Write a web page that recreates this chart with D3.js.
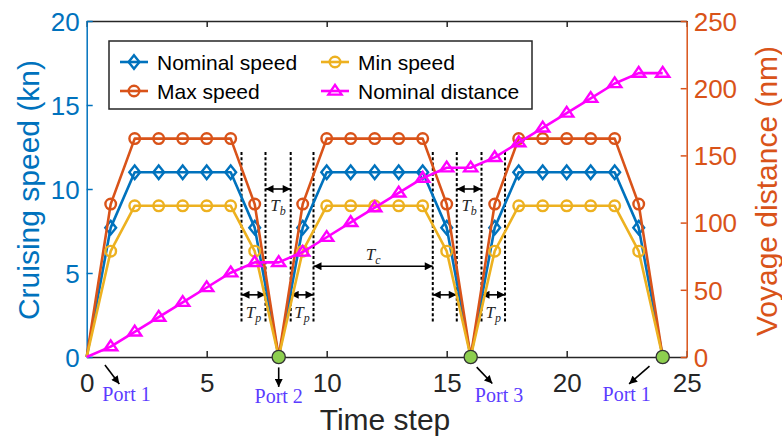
<!DOCTYPE html>
<html>
<head>
<meta charset="utf-8">
<script src="https://cdn.jsdelivr.net/npm/d3@7"></script>
<style>
  html, body { margin: 0; padding: 0; background: #ffffff; }
  svg { display: block; }
</style>
</head>
<body>
<div id="chart"></div>
<script>
// ---------------- data ----------------
const timeSteps = [0,1,2,3,4,5,6,7,8,9,10,11,12,13,14,15,16,17,18,19,20,21,22,23,24];
const nominalSpeed = [0,7.7,11,11,11,11,11,7.7,0,7.7,11,11,11,11,11,7.7,0,7.7,11,11,11,11,11,7.7,0];
const maxSpeed     = [0,9.1,13,13,13,13,13,9.1,0,9.1,13,13,13,13,13,9.1,0,9.1,13,13,13,13,13,9.1,0];
const minSpeed     = [0,6.3,9,9,9,9,9,6.3,0,6.3,9,9,9,9,9,6.3,0,6.3,9,9,9,9,9,6.3,0];
const nominalDistance = [0,7.7,18.7,29.7,40.7,51.7,62.7,70.4,70.4,78.1,89.1,100.1,111.1,122.1,133.1,140.8,140.8,148.5,159.5,170.5,181.5,192.5,203.5,211.2,211.2];

const xTicks = [0,5,10,15,20,25];
const leftTicks = [0,5,10,15,20];
const rightTicks = [0,50,100,150,200,250];

const stopSteps = [8,16,24];
const portNames = ["Port 1","Port 2","Port 3","Port 1"];
const portLabelT = [1.66, 8, 17.18, 22.5];
const portLabelY = [-2.62, -2.74, -2.66, -2.62];
const portArrowFrom = [[0.76,-0.48],[8,-0.62],[16.25,-0.6],[23.45,-0.54]];
const portArrowTo   = [[1.36,-1.61],[8,-1.78],[16.9,-1.58],[22.6,-1.6]];

const phaseLines = [6.45, 7.45, 8.5, 9.45, 14.42, 15.42, 16.45, 17.43];
const tpPairs = [[6.45,7.45],[8.5,9.45],[14.42,15.42],[16.45,17.43]];
const tpLabelled = [true, true, false, true];
const tbPairs = [[7.45,8.5],[15.42,16.45]];
const tcPair = [9.45,14.42];

// ---------------- layout ----------------
const W = 782, H = 439;
const C = { blue: "#0072BD", orange: "#D95319", yellow: "#EDB120", magenta: "#FF00FF", axis: "#262626" };

const svg = d3.select("#chart").append("svg")
  .attr("width", W).attr("height", H)
  .style("font-family", "Arial, 'Liberation Sans', Helvetica, sans-serif");

const x  = d3.scaleLinear().domain([0,25]).range([86.7,686.7]);
const yL = d3.scaleLinear().domain([0,20]).range([357,21]);
const yR = d3.scaleLinear().domain([0,250]).range([357,21]);

const defs = svg.append("defs");
defs.append("marker").attr("id","ah")
  .attr("viewBox","0 0 10 10").attr("refX",10).attr("refY",5)
  .attr("markerUnits","userSpaceOnUse").attr("markerWidth",9).attr("markerHeight",8)
  .attr("orient","auto-start-reverse")
  .append("path").attr("d","M0,0L10,5L0,10Z").attr("fill","#000");

// ---------------- axes ----------------
// bottom
const gx = svg.append("g").attr("transform",`translate(0,${yL(0)})`)
  .call(d3.axisBottom(x).tickValues(xTicks).tickSizeInner(-6).tickSizeOuter(0).tickPadding(17));
gx.select(".domain").attr("stroke", C.axis).attr("stroke-width",1.5);
gx.selectAll(".tick line").attr("stroke", C.axis).attr("stroke-width",1.5);
gx.selectAll(".tick text").attr("fill", C.axis).style("font-size","26px").style("font-family","Arial, 'Liberation Sans', sans-serif");

// top
const gt = svg.append("g").attr("transform",`translate(0,${yL(20)})`)
  .call(d3.axisTop(x).tickValues(xTicks).tickSizeInner(-6).tickSizeOuter(0).tickFormat(""));
gt.select(".domain").attr("stroke", C.axis).attr("stroke-width",1.5);
gt.selectAll(".tick line").attr("stroke", C.axis).attr("stroke-width",1.5);

// left
const gl = svg.append("g").attr("transform",`translate(${x(0)},0)`)
  .call(d3.axisLeft(yL).tickValues(leftTicks).tickSizeInner(-6).tickSizeOuter(0).tickPadding(7));
gl.select(".domain").attr("stroke", C.blue).attr("stroke-width",1.5);
gl.selectAll(".tick line").attr("stroke", C.blue).attr("stroke-width",1.5);
gl.selectAll(".tick text").attr("fill", C.blue).attr("dy","0.36em").style("font-size","26px").style("font-family","Arial, 'Liberation Sans', sans-serif");

// right
const gr = svg.append("g").attr("transform",`translate(${x(25)},0)`)
  .call(d3.axisRight(yR).tickValues(rightTicks).tickSizeInner(-6).tickSizeOuter(0).tickPadding(7));
gr.select(".domain").attr("stroke", C.orange).attr("stroke-width",1.5);
gr.selectAll(".tick line").attr("stroke", C.orange).attr("stroke-width",1.5);
gr.selectAll(".tick text").attr("fill", C.orange).attr("dy","0.36em").style("font-size","26px").style("font-family","Arial, 'Liberation Sans', sans-serif");

// axis titles
svg.append("text").attr("transform",`translate(39,190) rotate(-90)`)
  .attr("text-anchor","middle").attr("fill",C.blue).style("font-size","30px")
  .text("Cruising speed (kn)");
svg.append("text").attr("transform",`translate(777,191) rotate(-90)`)
  .attr("text-anchor","middle").attr("fill",C.orange).style("font-size","30px")
  .text("Voyage distance (nm)");
svg.append("text").attr("x", 385).attr("y", 430)
  .attr("text-anchor","middle").attr("fill",C.axis).style("font-size","30px")
  .text("Time step");

// ---------------- annotations (dotted phases) ----------------
const ann = svg.append("g");
ann.selectAll("line.phase").data(phaseLines).join("line")
  .attr("class","phase")
  .attr("x1", d => x(d)).attr("x2", d => x(d))
  .attr("y1", yL(12.2)).attr("y2", yL(2.0))
  .attr("stroke","#000").attr("stroke-width",2).attr("stroke-dasharray","3,2.2");

function dblArrow(a, b, yv) {
  ann.append("line")
    .attr("x1", x(a)).attr("x2", x(b)).attr("y1", yL(yv)).attr("y2", yL(yv))
    .attr("stroke","#000").attr("stroke-width",1.6)
    .attr("marker-start","url(#ah)").attr("marker-end","url(#ah)");
}
function tLabel(cx, yv, sub) {
  const t = ann.append("text").attr("x", cx).attr("y", yL(yv))
    .attr("text-anchor","middle").attr("fill","#262626")
    .style("font-family","'Liberation Serif', 'Times New Roman', serif")
    .style("font-style","italic").style("font-size","17px");
  t.append("tspan").text("T");
  t.append("tspan").attr("dy","4").style("font-size","12px").text(sub);
}
tpPairs.forEach((p,i) => {
  dblArrow(p[0], p[1], 3.7);
  if (tpLabelled[i]) tLabel((x(p[0])+x(p[1]))/2, 2.35, "p");
});
tbPairs.forEach(p => {
  dblArrow(p[0], p[1], 10.0);
  tLabel((x(p[0])+x(p[1]))/2, 8.7, "b");
});
dblArrow(tcPair[0], tcPair[1], 5.4);
tLabel((x(tcPair[0])+x(tcPair[1]))/2, 5.75, "c");

// ---------------- series ----------------
const plot = svg.append("g");
function series(values, scale, color, shape) {
  const pts = timeSteps.map((t,i) => [t, values[i]]);
  plot.append("path").datum(pts)
    .attr("fill","none").attr("stroke",color).attr("stroke-width",2.6)
    .attr("stroke-linejoin","round")
    .attr("d", d3.line().x(d => x(d[0])).y(d => scale(d[1])));
  const mk = plot.append("g").selectAll("g").data(pts.filter(d => d[0] > 0 && (shape === "tri" || d[1] > 0)))
    .join("g").attr("transform", d => `translate(${x(d[0])},${scale(d[1])})`);
  if (shape === "circle") {
    mk.append("circle").attr("r",5.3).attr("fill","none").attr("stroke",color).attr("stroke-width",2.4);
  } else if (shape === "diamond") {
    mk.append("path").attr("d","M0,-6.8L5.4,0L0,6.8L-5.4,0Z").attr("fill","none").attr("stroke",color).attr("stroke-width",2.4);
  } else {
    mk.append("path").attr("d","M0,-6.2L6.6,3.6L-6.6,3.6Z").attr("fill","none").attr("stroke",color).attr("stroke-width",2.4).attr("stroke-linejoin","miter");
  }
}
series(nominalSpeed, yL, C.blue, "diamond");
series(maxSpeed, yL, C.orange, "circle");
series(minSpeed, yL, C.yellow, "circle");
series(nominalDistance, yR, C.magenta, "tri");

// port stops
plot.append("g").selectAll("circle").data(stopSteps).join("circle")
  .attr("cx", d => x(d)).attr("cy", yL(0)).attr("r",6.6)
  .attr("fill","#8DCF4F").attr("stroke","#333").attr("stroke-width",1.3);

// port labels + arrows
portNames.forEach((name,i) => {
  svg.append("line")
    .attr("x1", x(portArrowFrom[i][0])).attr("y1", yL(portArrowFrom[i][1]))
    .attr("x2", x(portArrowTo[i][0])).attr("y2", yL(portArrowTo[i][1]))
    .attr("stroke","#000").attr("stroke-width",1.6).attr("marker-end","url(#ah)");
  svg.append("text").attr("x", x(portLabelT[i])).attr("y", yL(portLabelY[i]))
    .attr("text-anchor","middle").attr("fill","#5B3CFF")
    .style("font-family","'Liberation Serif', 'Times New Roman', serif").style("font-size","20px")
    .text(name);
});

// ---------------- legend ----------------
const leg = svg.append("g");
leg.append("rect").attr("x",109).attr("y",41).attr("width",423).attr("height",68)
  .attr("fill","#fff").attr("stroke","#262626").attr("stroke-width",1.5);
const legItems = [
  {name:"Nominal speed", color:C.blue, shape:"diamond", col:0, row:0},
  {name:"Max speed", color:C.orange, shape:"circle", col:0, row:1},
  {name:"Min speed", color:C.yellow, shape:"circle", col:1, row:0},
  {name:"Nominal distance", color:C.magenta, shape:"tri", col:1, row:1}
];
const colX = [120, 321];
const rowY = [62, 91];
legItems.forEach(it => {
  const g = leg.append("g").attr("transform",`translate(${colX[it.col]},${rowY[it.row]})`);
  g.append("line").attr("x1",0).attr("x2",28).attr("stroke",it.color).attr("stroke-width",2.6);
  const m = g.append("g").attr("transform","translate(14,0)");
  if (it.shape === "circle") m.append("circle").attr("r",5.3).attr("fill","none").attr("stroke",it.color).attr("stroke-width",2.4);
  else if (it.shape === "diamond") m.append("path").attr("d","M0,-6.8L5.4,0L0,6.8L-5.4,0Z").attr("fill","none").attr("stroke",it.color).attr("stroke-width",2.4);
  else m.append("path").attr("d","M0,-6.2L6.6,3.6L-6.6,3.6Z").attr("fill","none").attr("stroke",it.color).attr("stroke-width",2.4);
  g.append("text").attr("x",37).attr("y",0).attr("dy","0.36em").attr("fill","#000")
    .style("font-size","21px").text(it.name);
});
</script>
</body>
</html>
